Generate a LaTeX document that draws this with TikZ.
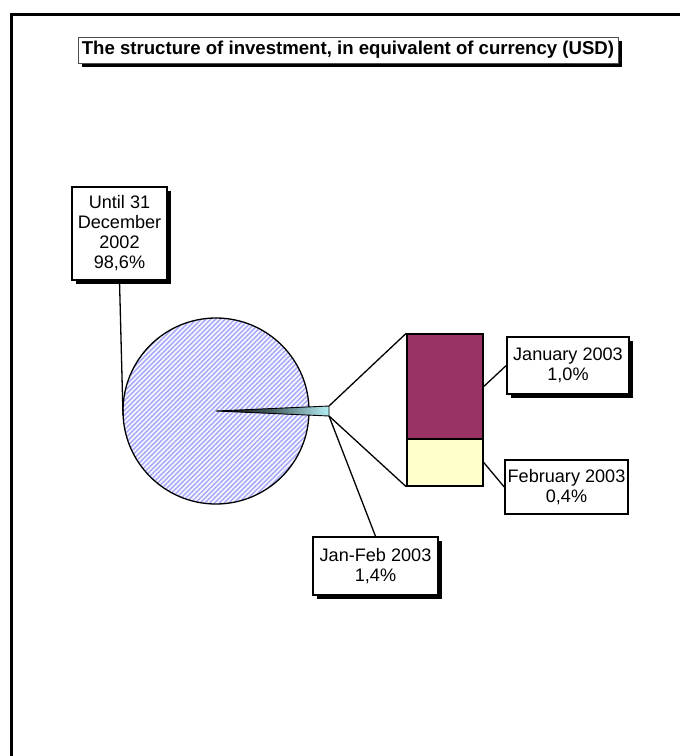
\documentclass[tikz,border=0pt]{standalone}
\usepackage{fontspec}
\setmainfont{Liberation Sans}
\usetikzlibrary{patterns.meta,shadows}
\definecolor{barjan}{RGB}{153,51,102}
\definecolor{barfeb}{RGB}{255,255,204}
\definecolor{hatchc}{RGB}{165,165,250}
\definecolor{piebase}{RGB}{246,246,255}
\definecolor{slicec}{RGB}{180,240,245}
\begin{document}
\begin{tikzpicture}[x=1pt,y=-1pt,
  lbl/.style={draw=black, line width=1.5pt, fill=white, align=center, inner sep=0pt,
              font=\fontsize{18.1}{20}\selectfont},
  shad/.style={general shadow={fill=black, shadow xshift=4pt, shadow yshift=-4pt}},
  barbox/.style={draw=black, line width=1.5pt, inner sep=0pt, minimum width=76pt},
  lead/.style={line width=1.3pt, black}]
\useasboundingbox (0,0) rectangle (680,756);
% frame
\draw[line width=3pt] (11,756) -- (11,14) -- (680,14);
% title
\node[draw=black!70, line width=0.8pt, fill=white, shad, minimum width=540pt, minimum height=26pt,
      inner sep=0pt, font=\bfseries\fontsize{18.6}{20}\selectfont] (title) at (348,50)
  {The structure of investment, in equivalent of currency (USD)};
% pie
\node[circle, draw=black, line width=1.3pt, minimum size=186pt, inner sep=0pt,
      preaction={fill=piebase}, pattern={Lines[angle=45, distance=3.4pt, line width=1.4pt]},
      pattern color=hatchc] (pie) at (216,411) {};
% slice
\coordinate (ctr) at (216,411);
\coordinate (wtop) at (329,406);
\coordinate (wbot) at (329,416);
\shade[left color=black, right color=slicec, middle color=slicec!40!black] (ctr) -- (wtop) -- (wbot) -- cycle;
\draw[line width=0.9pt] (ctr) -- (wtop) -- (wbot) -- cycle;
% bar
\node[barbox, fill=barjan, minimum height=105pt] (janbar) at (445,386.5) {};
\node[barbox, fill=barfeb, minimum height=47pt] (febbar) at (445,462.5) {};
% labels
\node[lbl, shad, minimum width=95pt, minimum height=93pt] (until) at (119.5,233.5)
  {Until 31\\December\\2002\\98,6\%};
\node[lbl, shad, minimum width=122pt, minimum height=57pt] (jan) at (568,365.5)
  {January 2003\\1,0\%};
\node[lbl, minimum width=123pt, minimum height=54pt] (feb) at (566.5,487)
  {February 2003\\0,4\%};
\node[lbl, shad, minimum width=125pt, minimum height=58pt] (jf) at (375.5,566)
  {Jan-Feb 2003\\1,4\%};
% leaders
\coordinate (pieleft) at (123,415);
\draw[lead] (until.south) -- (pieleft);
\draw[lead] (wtop) -- (janbar.north west);
\draw[lead] (wbot) -- (febbar.south west);
\draw[lead] (wbot) -- (jf.north);
\draw[lead] (janbar.east) -- (jan.west);
\draw[lead] (febbar.east) -- (feb.west);
\end{tikzpicture}
\end{document}
